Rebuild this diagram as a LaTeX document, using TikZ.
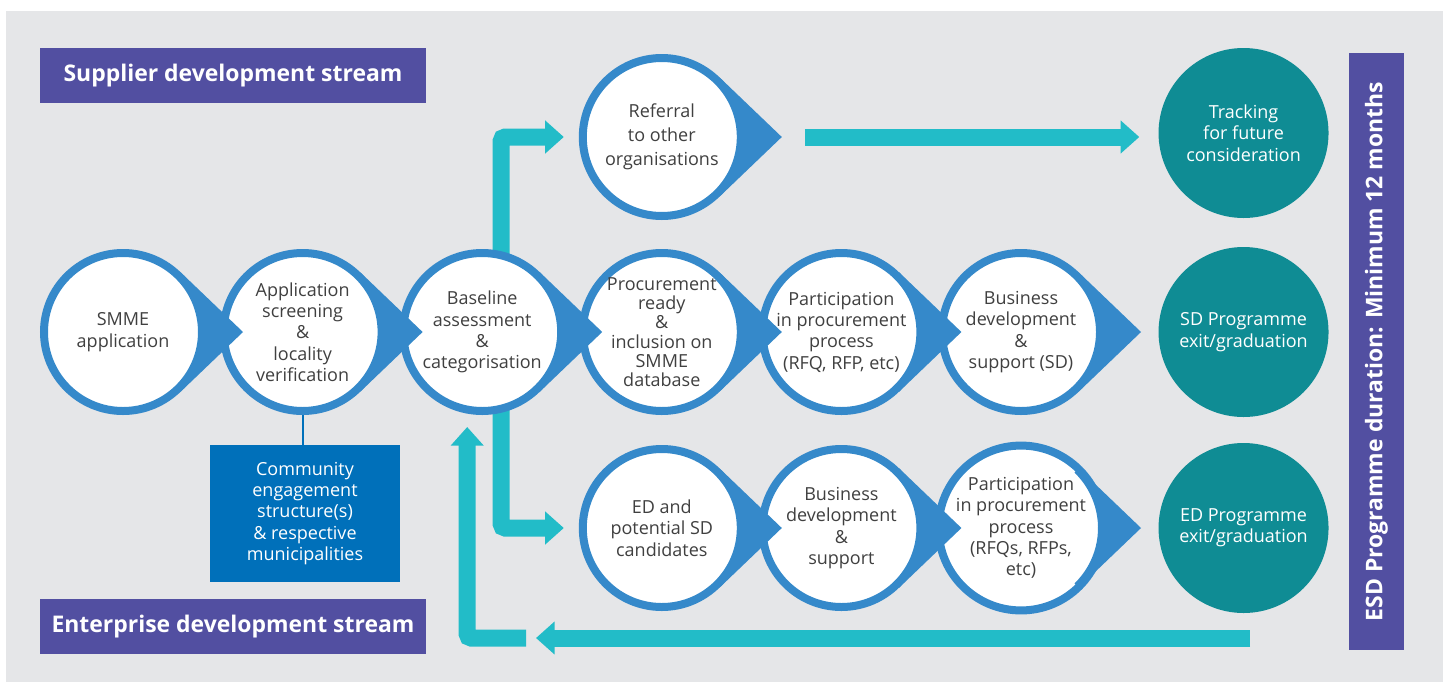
\documentclass[tikz,border=0pt]{standalone}
\usepackage{fontspec}
\setmainfont{Open Sans}
\usepackage{xcolor}
\usetikzlibrary{arrows.meta,calc,backgrounds}

\definecolor{bggray}{HTML}{E5E6E8}
\definecolor{streampurple}{HTML}{524FA1}
\definecolor{commblue}{HTML}{0070BA}
\definecolor{ringblue}{HTML}{3589CA}
\definecolor{flowcyan}{HTML}{22BCC8}
\definecolor{exitteal}{HTML}{0F8C94}
\definecolor{textgray}{HTML}{404040}

\begin{document}
\begin{tikzpicture}[x=0.75pt, y=-0.75pt,
    node distance=134.7pt,
    stepcirc/.style={circle, draw=ringblue, line width=6pt, fill=white,
        minimum size=118.5pt, inner sep=0pt, text=textgray, align=center,
        font=\fontsize{13.5}{16}\selectfont},
    exitcirc/.style={circle, fill=exitteal, minimum size=127.5pt, inner sep=0pt,
        text=white, align=center, font=\fontsize{13.5}{16}\selectfont},
    streambox/.style={fill=streampurple, text=white, minimum width=289.5pt,
        minimum height=41.25pt, font=\bfseries\fontsize{17.2}{20}\selectfont},
    commbox/.style={fill=commblue, text=white, minimum width=142.5pt,
        minimum height=102.75pt, align=center, font=\fontsize{13.5}{16}\selectfont},
    flow/.style={draw=flowcyan, line width=12.75pt, rounded corners=3pt,
        -{Triangle[length=14pt,width=24pt]}}]

\useasboundingbox (0,0) rectangle (1451,682);
\begin{scope}[on background layer]
\fill[bggray] (6,11) rectangle (1443,682);
\end{scope}

% stream labels
\node[streambox] (supplier) at (233,75.5) {Supplier development stream};
\node[streambox] (enterprise) at (233,626.5) {Enterprise development stream};
\node[streambox, rotate=90, minimum width=447.75pt] (esd) at (1376.5,351.5)
      {ESD Programme duration: Minimum 12 months};

% main row
\node[stepcirc] (smme) at (123,332) {SMME\\application};
\node[stepcirc] (screen) [right of=smme] {Application\\screening\\\&\\locality\\verification};
\node[stepcirc] (base) [right of=screen] {Baseline\\assessment\\\&\\categorisation};
\node[stepcirc, font=\fontsize{13.5}{14.5}\selectfont] (ready) [right of=base]
      {Procurement\\ready\\\&\\inclusion on\\SMME\\database};
\node[stepcirc] (partic) [right of=ready] {Participation\\in procurement\\process\\(RFQ, RFP, etc)};
\node[stepcirc] (busdev) [right of=partic] {Business\\development\\\&\\support (SD)};

% referral row
\node[stepcirc, font=\fontsize{13.5}{18}\selectfont] (refer) [above of=ready, node distance=146.25pt]
      {Referral\\to other\\organisations};

% enterprise row
\node[stepcirc] (edcand) [below of=ready, node distance=147pt] {ED and\\potential SD\\candidates};
\node[stepcirc] (edbus) [right of=edcand] {Business\\development\\\&\\support};
\node[stepcirc] (edpart) [right of=edbus] {Participation\\in procurement\\process\\(RFQs, RFPs,\\etc)};

% exits
\node[exitcirc] (sdexit) [right of=busdev, node distance=166.9pt] {SD Programme\\exit/graduation};
\node[exitcirc] (edexit) [right of=edpart, node distance=166.9pt] {ED Programme\\exit/graduation};
\node[exitcirc] (track) [above of=sdexit, node distance=149.25pt] {Tracking\\for future\\consideration};

% community
\node[commbox] (comm) at (305,513.5)
      {Community\\engagement\\structure(s)\\\& respective\\municipalities};
\draw[commblue, line width=1.5pt] (screen.south) -- (screen.south |- comm.north);

% pointed tips
\foreach \n in {smme,screen,base,ready,partic,busdev,refer,edcand,edbus,edpart}
  \fill[ringblue] ($(\n.center)+(46:83)$) -- ($(\n.center)+(120,0)$) -- ($(\n.center)+(-46:83)$)
      -- ($(\n.center)+(-46:77)$) arc[start angle=-46, end angle=46, radius=77] -- cycle;

% flow arrows
\coordinate (retstart) at (1250,638);
\coordinate (retend) at (536,638);
\coordinate (loopstart) at (526,638);
\begin{scope}[on background layer]
\draw[flow] ($(base.center)+(19,0)$) |- ($(refer.west)+(-15,0)$);
\draw[flow] ($(base.center)+(19,0)$) |- ($(edcand.west)+(-15,0)$);
\draw[flow] ($(refer.east)+(60,0)$) -- ($(track.west |- refer.east)+(-19,0)$);
\draw[flow] (retstart) -- (retend);
\draw[flow] (loopstart) -| ($(base.south)+(-15,12)$);
\end{scope}
\end{tikzpicture}
\end{document}
